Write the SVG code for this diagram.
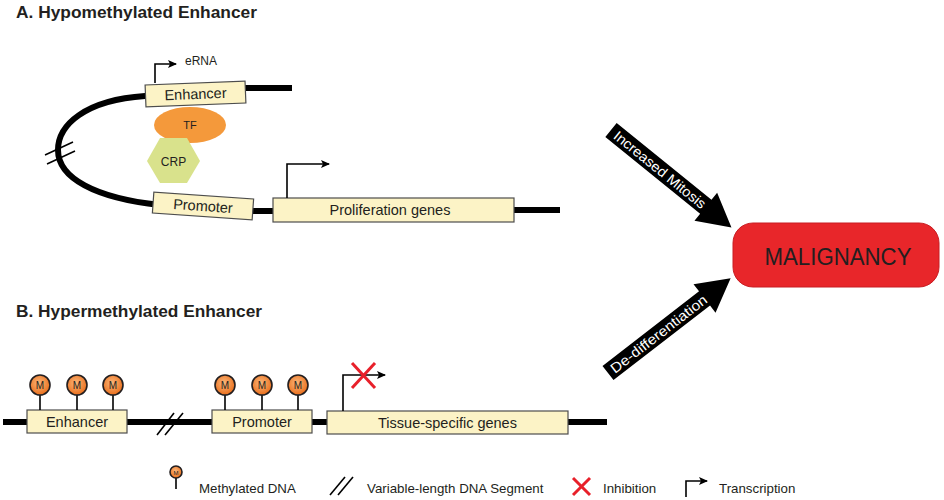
<svg xmlns="http://www.w3.org/2000/svg" width="944" height="500" viewBox="0 0 944 500">
<style>
text{font-family:"Liberation Sans",Arial,sans-serif;fill:#231f20}
.title{font-size:17px;font-weight:bold}
.box{fill:#fcf3c6;stroke:#4d4d4d;stroke-width:1.2}
.blab{font-size:14.5px;text-anchor:middle}
.dna{fill:none;stroke:#000;stroke-width:6}
.thin{fill:none;stroke:#000;stroke-width:1.6}
.tx{fill:none;stroke:#000;stroke-width:1.6}
.redx{stroke:#e8202a;stroke-width:3;fill:none}
.mc{fill:url(#mg);stroke:#231f20;stroke-width:1.6}
.mt{font-size:10px;text-anchor:middle;fill:#231f20}
.leg{font-size:13.3px}
.big{fill:#000}
.wt{fill:#fff;font-size:14px}
</style>
<defs>
<radialGradient id="mg" cx="0.45" cy="0.4" r="0.6">
<stop offset="0" stop-color="#fbb77a"/>
<stop offset="1" stop-color="#ea6f1c"/>
</radialGradient>
<marker id="ah" markerUnits="userSpaceOnUse" markerWidth="10" markerHeight="10" refX="8" refY="5" orient="auto">
<path d="M0,1 L9,5 L0,9 L2,5 Z" fill="#000"/>
</marker>
</defs>

<text class="title" x="16" y="18" textLength="241" lengthAdjust="spacingAndGlyphs">A. Hypomethylated Enhancer</text>
<text class="title" x="16" y="317" textLength="246" lengthAdjust="spacingAndGlyphs">B. Hypermethylated Enhancer</text>

<g id="dna-lines">
<path class="dna" d="M160,95 L145,96 C85,100 58,125 58,150 C58,178 95,198 160,205"/>
<line class="dna" x1="240" y1="88" x2="292" y2="88"/>
<line class="dna" x1="245" y1="211" x2="280" y2="211"/>
<line class="dna" x1="505" y1="210" x2="560" y2="210"/>
<line class="dna" x1="3" y1="422" x2="607" y2="422"/>
</g>

<g id="hash-a">
<line class="thin" x1="45" y1="155" x2="73" y2="142"/>
<line class="thin" x1="47" y1="164" x2="75" y2="151"/>
</g>
<g id="hash-b">
<line class="thin" x1="157" y1="435" x2="174" y2="413"/>
<line class="thin" x1="165" y1="435" x2="183" y2="413"/>
</g>

<g id="enhancer-a" transform="rotate(-2.3 195.5 94)">
<rect class="box" x="145.5" y="83" width="100" height="22"/>
<text class="blab" x="195.5" y="99">Enhancer</text>
</g>
<g id="erna">
<polyline class="tx" points="155,83 155,64 176,64" marker-end="url(#ah)"/>
<text x="185" y="65" font-size="12">eRNA</text>
</g>

<g id="tf">
<ellipse cx="190" cy="125" rx="36" ry="18" fill="#f4993b"/>
<text x="190" y="129" font-size="11" text-anchor="middle">TF</text>
</g>
<g id="crp">
<polygon points="147,161 160,138 187,138 200,161 187,183 160,183" fill="#d9e28c"/>
<text x="173.5" y="166" font-size="12" text-anchor="middle">CRP</text>
</g>

<g id="promoter-a" transform="rotate(4 203 206)">
<rect class="box" x="153" y="195.5" width="100" height="21"/>
<text class="blab" x="203" y="211">Promoter</text>
</g>

<g id="proliferation">
<rect class="box" x="273" y="198" width="241" height="24"/>
<text class="blab" x="390" y="215">Proliferation genes</text>
<polyline class="tx" points="287,198 287,164 329,164" marker-end="url(#ah)"/>
</g>

<g id="enhancer-b">
<rect class="box" x="27" y="410" width="100" height="23"/>
<text class="blab" x="77" y="427">Enhancer</text>
<line class="thin" x1="40" y1="395" x2="40" y2="410"/>
<line class="thin" x1="77" y1="395" x2="77" y2="410"/>
<line class="thin" x1="113" y1="395" x2="113" y2="410"/>
<circle class="mc" cx="40" cy="385" r="10"/>
<circle class="mc" cx="77" cy="385" r="10"/>
<circle class="mc" cx="113" cy="385" r="10"/>
<text class="mt" x="40" y="389">M</text>
<text class="mt" x="77" y="389">M</text>
<text class="mt" x="113" y="389">M</text>
</g>

<g id="promoter-b">
<rect class="box" x="212" y="410" width="100" height="23"/>
<text class="blab" x="262" y="427">Promoter</text>
<line class="thin" x1="225" y1="395" x2="225" y2="410"/>
<line class="thin" x1="262" y1="395" x2="262" y2="410"/>
<line class="thin" x1="298" y1="395" x2="298" y2="410"/>
<circle class="mc" cx="225" cy="385" r="10"/>
<circle class="mc" cx="262" cy="385" r="10"/>
<circle class="mc" cx="298" cy="385" r="10"/>
<text class="mt" x="225" y="389">M</text>
<text class="mt" x="262" y="389">M</text>
<text class="mt" x="298" y="389">M</text>
</g>

<g id="tissue">
<rect class="box" x="327" y="411" width="241" height="23"/>
<text class="blab" x="447.5" y="428">Tissue-specific genes</text>
<polyline class="tx" points="343,411 343,375 385,375" marker-end="url(#ah)"/>
<line class="redx" x1="352" y1="363" x2="375" y2="388"/>
<line class="redx" x1="375" y1="363" x2="352" y2="388"/>
</g>

<g id="connectors">
<g transform="translate(611 130) rotate(39)">
<polygon class="big" points="0,-9 122,-9 122,-18 155,0 122,18 122,9 0,9"/>
<text class="wt" x="6" y="5" textLength="114" lengthAdjust="spacingAndGlyphs">Increased Mitosis</text>
</g>
<g transform="translate(608 373) rotate(-37.7)">
<polygon class="big" points="0,-9 122,-9 122,-18 155,0 122,18 122,9 0,9"/>
<text class="wt" x="5" y="5" textLength="118" lengthAdjust="spacingAndGlyphs">De-differentiation</text>
</g>
</g>

<g id="malignancy">
<rect x="733" y="223" width="206" height="64" rx="20" fill="#e8262a" stroke="#c81d22" stroke-width="1"/>
<text x="838" y="265" font-size="23" text-anchor="middle" textLength="147" lengthAdjust="spacingAndGlyphs">MALIGNANCY</text>
</g>

<g id="legend">
<line class="thin" x1="176" y1="478" x2="176" y2="489"/>
<circle class="mc" cx="176" cy="472" r="6" stroke-width="1.2"/>
<text x="176" y="474.5" font-size="6" text-anchor="middle">M</text>
<text class="leg" x="199" y="493">Methylated DNA</text>
<line class="thin" x1="330" y1="495" x2="345" y2="477"/>
<line class="thin" x1="338" y1="495" x2="353" y2="477"/>
<text class="leg" x="367" y="493">Variable-length DNA Segment</text>
<line class="redx" x1="573" y1="478" x2="590" y2="495"/>
<line class="redx" x1="590" y1="478" x2="573" y2="495"/>
<text class="leg" x="603" y="493">Inhibition</text>
<polyline class="tx" points="686,497 686,481 707,481" marker-end="url(#ah)"/>
<text class="leg" x="719" y="493">Transcription</text>
</g>
</svg>
